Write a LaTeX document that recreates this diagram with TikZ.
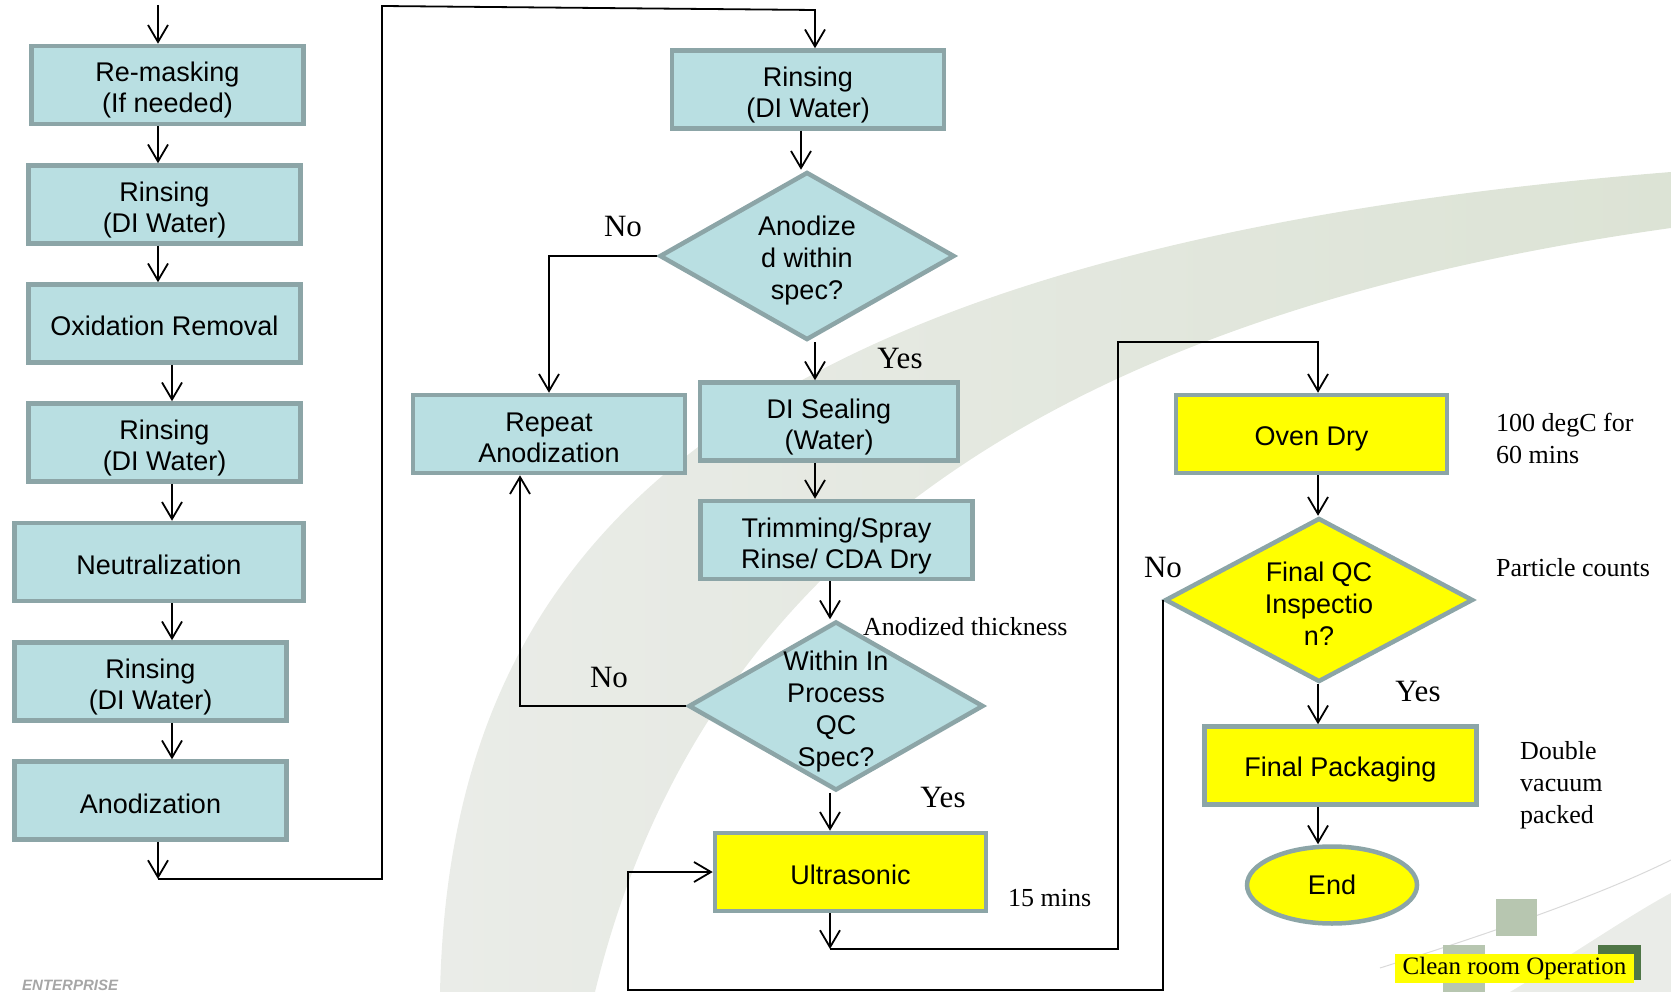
\documentclass[tikz,border=0pt]{standalone}
\usepackage{fontspec}
\setmainfont{Liberation Serif}
\newfontfamily\boxfont{Liberation Sans}
\usetikzlibrary{arrows.meta,shapes.geometric}
\definecolor{boxfill}{HTML}{B9DFE2}
\definecolor{boxline}{HTML}{8CA5A7}
\definecolor{qcyellow}{HTML}{FFFF00}
\definecolor{swooshL}{HTML}{EAECE8}
\definecolor{swooshR}{HTML}{DCE3D5}
\definecolor{sqlight}{HTML}{B7C6B0}
\definecolor{sqdark}{HTML}{4F7646}
\tikzset{
  stepbox/.style={rectangle, draw=boxline, line width=4.5pt, fill=boxfill, align=center,
    font=\boxfont\fontsize{27}{31}\selectfont, inner sep=0pt,
    minimum width=272pt, minimum height=78pt,
    execute at begin node={\rule{0pt}{28pt}},
    execute at end node={\rule[-3pt]{0pt}{3pt}}},
  twoline/.style={text height=56pt, text depth=0pt},
  hotbox/.style={stepbox, fill=qcyellow},
  decision/.style={diamond, draw=boxline, line width=4.5pt, fill=boxfill, inner sep=0pt},
  qtext/.style={align=center, font=\boxfont\fontsize{27}{32}\selectfont, inner sep=0pt},
  flow/.style={-{Straight Barb[length=17pt,width=20pt]}, line width=1.8pt},
  answer/.style={font=\fontsize{31}{31}\selectfont, inner sep=0pt},
  note/.style={font=\fontsize{26}{32}\selectfont, anchor=west, align=left, inner sep=0pt},
}

\begin{document}
\begin{tikzpicture}[x=1pt, y=-1pt]
	\useasboundingbox (0,0) rectangle (1671,992);
	\clip (0,0) rectangle (1671,992);

	%%%%% BACKGROUND %%%%%
	\shade[left color=swooshL, right color=swooshR]
		(440,992) .. controls (450,560) and (700,250) .. (1671,172)
		-- (1671,228) .. controls (1050,315) and (700,560) .. (595,992) -- cycle;
	\fill[swooshL] (1510,992) .. controls (1580,950) and (1630,915) .. (1671,893) -- (1671,992) -- cycle;
	\draw[gray!30, line width=1pt] (1380,968) .. controls (1500,930) and (1600,895) .. (1671,860);
	\fill[sqlight] (1496,899) rectangle (1537,936);
	\fill[sqlight] (1443,945) rectangle (1485,992);
	\fill[sqdark] (1598,945) rectangle (1641,980);
	\node[anchor=base west, inner sep=0pt, text=gray!70, font=\boxfont\bfseries\itshape\fontsize{15}{15}\selectfont] (brand) at (22,990) {ENTERPRISE};

	%%%%% LEFT COLUMN %%%%%
	\coordinate (colA) at (158,0);
	\coordinate (colB) at (172,0);
	\coordinate (entry) at (158,5);

	\node[stepbox, twoline] (remask) at (167.5,85) {Re-masking\\(If needed)};
	\node[stepbox, twoline] (rinseA) at (164.5,204.5) {Rinsing\\(DI Water)};
	\node[stepbox] (oxrem) at (164.5,323.5) {Oxidation Removal};
	\node[stepbox, twoline] (rinseB) at (164.5,442.5) {Rinsing\\(DI Water)};
	\node[stepbox, minimum width=289pt] (neutral) at (159,562) {Neutralization};
	\node[stepbox, twoline] (rinseC) at (150.5,681.5) {Rinsing\\(DI Water)};
	\node[stepbox] (anodz) at (150.5,800.5) {Anodization};

	\draw[flow] (entry) -- (remask.north -| entry);
	\draw[flow] (remask.south -| colA) -- (rinseA.north -| colA);
	\draw[flow] (rinseA.south -| colA) -- (oxrem.north -| colA);
	\draw[flow] (oxrem.south -| colB) -- (rinseB.north -| colB);
	\draw[flow] (rinseB.south -| colB) -- (neutral.north -| colB);
	\draw[flow] (neutral.south -| colB) -- (rinseC.north -| colB);
	\draw[flow] (rinseC.south -| colB) -- (anodz.north -| colB);

	%%%%% MIDDLE COLUMN %%%%%
	\coordinate (colD) at (801,0);
	\coordinate (colE) at (815,0);
	\coordinate (colF) at (830,0);
	\coordinate (colR) at (520,0);
	\coordinate (loopA) at (158,879);
	\coordinate (loopB) at (382,6);
	\coordinate (loopC) at (815,10);

	\node[stepbox, twoline] (rinseD) at (808,89.5) {Rinsing\\(DI Water)};
	\node[decision, minimum width=295pt, minimum height=168pt] (anodok) at (807,256) {};
	\node[qtext] (anodokT) at (807,261) {Anodize\\d within\\spec?};
	\node[stepbox, twoline] (redo) at (549,434) {Repeat\\Anodization};
	\node[stepbox, twoline, minimum width=258pt] (sealing) at (829,421.5) {DI Sealing\\(Water)};
	\node[stepbox, twoline] (trim) at (836.5,540) {Trimming/Spray\\Rinse/ CDA Dry};
	\node[decision, minimum width=295pt, minimum height=169pt] (inproc) at (836,706) {};
	\node[qtext] (inprocT) at (836,712) {Within In\\Process\\QC\\Spec?};
	\node[hotbox, minimum width=271pt] (ultra) at (850.5,872) {Ultrasonic};

	\draw[flow] (anodz.south -| colA) -- (loopA);
	\draw[flow] (loopA) -| (loopB) -- (loopC) -- (rinseD.north -| loopC);
	\draw[flow] (rinseD.south -| colD) -- (anodok.north -| colD);
	\draw[flow] (anodok.west) -| (redo.north);
	\draw[flow] (anodok.south -| colE) -- (sealing.north -| colE);
	\draw[flow] (sealing.south -| colE) -- (trim.north -| colE);
	\draw[flow] (trim.south -| colF) -- (inproc.north -| colF);
	\draw[flow] (inproc.west) -| (redo.south -| colR);
	\draw[flow] (inproc.south -| colF) -- (ultra.north -| colF);

	\node[answer] (noA) at (623,227) {No};
	\node[answer] (yesA) at (900,359) {Yes};
	\node[answer] (noB) at (609,677) {No};
	\node[answer] (yesB) at (943,797) {Yes};
	\node[note] (thick) at (863,627) {Anodized thickness};
	\node[note] (usmin) at (1008,898) {15 mins};

	%%%%% RIGHT COLUMN %%%%%
	\coordinate (colG) at (1318,0);
	\coordinate (dryA) at (830,949);
	\coordinate (dryB) at (1118,342);
	\coordinate (reworkA) at (628,990);

	\node[hotbox, minimum width=271pt] (oven) at (1311.5,434) {Oven Dry};
	\node[decision, fill=qcyellow, minimum width=308pt, minimum height=164pt] (finalqc) at (1319,600) {};
	\node[qtext] (finalqcT) at (1319,604) {Final QC\\Inspectio\\n?};
	\node[hotbox] (packing) at (1340.5,765.5) {Final Packaging};
	\node[ellipse, draw=boxline, line width=4.5pt, fill=qcyellow, inner sep=0pt,
		minimum width=170pt, minimum height=77pt, font=\boxfont\fontsize{27}{31}\selectfont] (finish) at (1332,885) {End};

	\draw[flow] (ultra.south -| colF) -- (dryA);
	\draw[flow] (dryA) -| (dryB) -| (oven.north -| colG);
	\draw[flow] (oven.south -| colG) -- (finalqc.north -| colG);
	\draw[flow] (finalqc.south -| colG) -- (packing.north -| colG);
	\draw[flow] (packing.south -| colG) -- (finish.north -| colG);
	\draw[flow] (finalqc.west) |- (reworkA) |- (ultra.west);

	\node[answer] (noC) at (1163,567) {No};
	\node[answer] (yesC) at (1418,691) {Yes};
	\node[note] (ovennote) at (1496,438) {100 degC for\\60 mins};
	\node[note] (particle) at (1496,568) {Particle counts};
	\node[note] (vacnote) at (1520,785) {Double\\vacuum\\packed};
	\node[fill=qcyellow, inner sep=0pt, minimum width=239pt, minimum height=29pt,
		font=\fontsize{25}{25}\selectfont] (cleanroom) at (1514.5,968.5) {Clean room Operation};
\end{tikzpicture}
\end{document}
